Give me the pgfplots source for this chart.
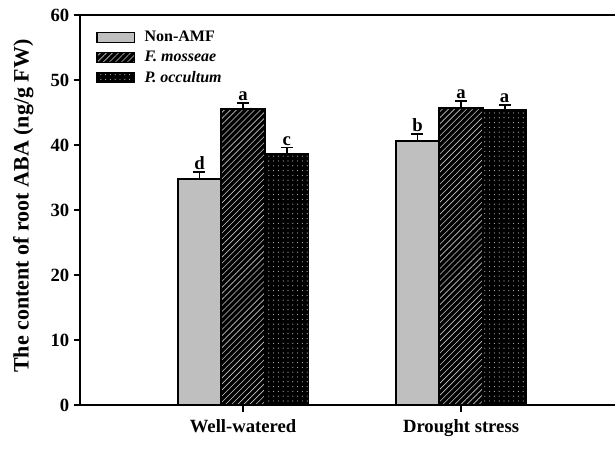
\documentclass[border=0pt]{standalone}
\usepackage{fontspec}
\setmainfont{Liberation Serif}
\usepackage{pgfplots}
\pgfplotsset{compat=1.18}
\usetikzlibrary{patterns.meta}

% x positions: group centre (1 = Well-watered, 2 = Drought stress) plus bar offset
\pgfplotstableread{
x y e
0.8 34.8 1.1
1.8 40.6 1.1
}\nonamf
\pgfplotstableread{
x y e
1.0 45.5 1.0
2.0 45.7 1.1
}\fmos
\pgfplotstableread{
x y e
1.2 38.6 1.0
2.2 45.4 0.8
}\pocc
\pgfplotstableread{
x y lab
0.8 35.9 d
1.0 46.5 a
1.2 39.6 c
1.8 41.7 b
2.0 46.8 a
2.2 46.2 a
}\letters

\pgfplotsset{
  errstyle/.style={
    error bars/.cd, y dir=plus, y explicit,
    error bar style={line width=1.3pt, black},
    error mark options={rotate=90, mark size=4.5pt, line width=1.3pt, black},
  },
  mylegend/.style={legend image code/.code={\draw[##1, line width=1.1pt] (0pt,-3.75pt) rectangle (28pt,3.75pt); \path (33pt,0pt);}},
}

\begin{document}
\begin{tikzpicture}
\begin{axis}[
  at={(0,0)}, anchor=south west, scale only axis,
  width=408.4pt, height=292.5pt,
  xmin=0.252, xmax=2.75, ymin=0, ymax=60,
  axis on top,
  axis line style={line width=1.6pt},
  xtick={1,2}, xticklabels={Well-watered, Drought stress},
  ytick={0,10,...,60},
  xtick pos=lower, ytick pos=lower,
  tick align=outside, major tick length=4.5pt,
  major tick style={line width=1.4pt, black},
  /pgf/number format/assume math mode=true,
  tick label style={font=\fontsize{14}{16}\selectfont\bfseries},
  xticklabel style={yshift=-3pt},
  ylabel={The content of root ABA (ng/g FW)},
  every axis y label/.style={at={(axis description cs:-0.1043,0.51)}, rotate=90, anchor=center,
    font=\fontsize{16.5}{19}\selectfont\bfseries},
  legend style={at={(axis description cs:0.0295,0.966)}, anchor=north west, draw=none, fill=none,
    font=\fontsize{12}{14}\selectfont\bfseries, row sep=1.5pt, inner sep=0pt},
  legend cell align=left,
  clip=false,
]
\addplot[ybar, bar width=0.2, bar shift=0, fill=gray!50, draw=black, line width=1.3pt, mylegend, errstyle]
  table[x=x, y=y, y error=e] {\nonamf};
\addlegendentry{Non-AMF}
\addplot[ybar, bar width=0.2, bar shift=0, fill=black, draw=black, line width=1.3pt,
  postaction={pattern={Lines[angle=45, distance=3.2pt, line width=0.45pt]}, pattern color=gray!45}, mylegend, errstyle]
  table[x=x, y=y, y error=e] {\fmos};
\addlegendentry{\itshape F. mosseae}
\addplot[ybar, bar width=0.2, bar shift=0, fill=black, draw=black, line width=1.3pt,
  postaction={pattern={Dots[distance=3.6pt, radius=0.45pt]}, pattern color=gray!60}, mylegend, errstyle]
  table[x=x, y=y, y error=e] {\pocc};
\addlegendentry{\itshape P. occultum}
\addplot[draw=none, mark=none, forget plot, nodes near coords, point meta=explicit symbolic,
  nodes near coords style={anchor=south, inner sep=1.5pt, font=\fontsize{14}{16}\selectfont\bfseries, black}]
  table[x=x, y=y, meta=lab] {\letters};
% outward x tick marks at the two group centres
\draw[line width=1.6pt, black] (axis cs:1,0) -- ++(0pt,-5pt);
\draw[line width=1.6pt, black] (axis cs:2,0) -- ++(0pt,-5pt);
\end{axis}
\pgfresetboundingbox
\path (-60pt,-33pt) rectangle (401.25pt,303.75pt);
\end{tikzpicture}
\end{document}
